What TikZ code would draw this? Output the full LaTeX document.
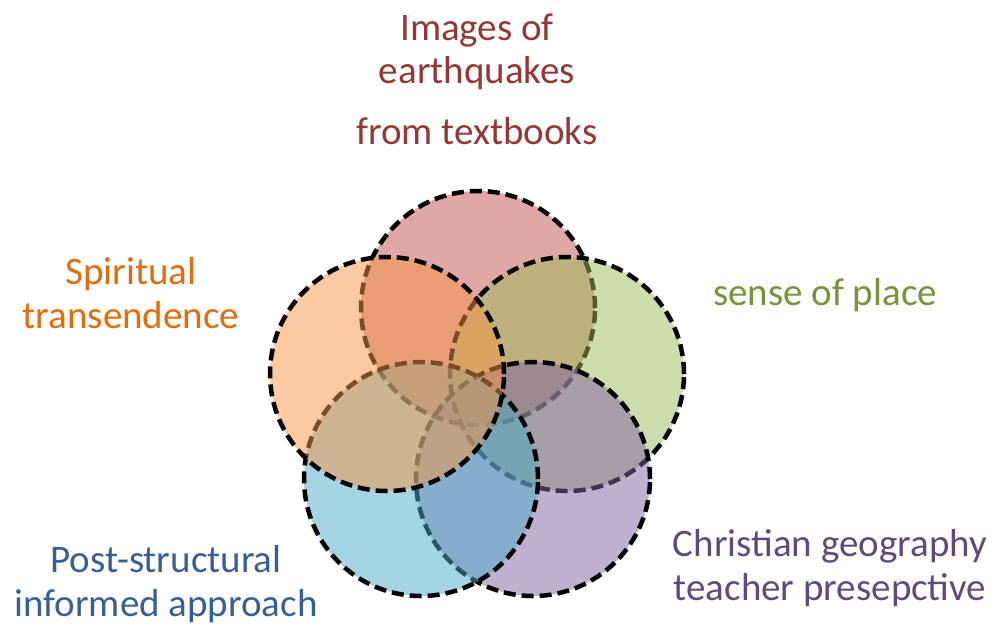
\documentclass[tikz,border=0pt]{standalone}
\usepackage{fontspec}
\setmainfont{Carlito}
\usepackage{xcolor}
\usepackage{tikz}
\definecolor{fillred}{HTML}{C0504D}
\definecolor{fillgreen}{HTML}{9BBB59}
\definecolor{fillpurple}{HTML}{8064A2}
\definecolor{fillblue}{HTML}{4BACC6}
\definecolor{fillorange}{HTML}{F79646}
\definecolor{textred}{HTML}{953735}
\definecolor{textgreen}{HTML}{77933C}
\definecolor{textpurple}{HTML}{604A7B}
\definecolor{textblue}{HTML}{376092}
\definecolor{textorange}{HTML}{E46C0A}

\begin{document}
\begin{tikzpicture}[x=1pt,y=-1pt,
  venn/.style={circle, draw=black, line width=4.5pt, dash pattern=on 12pt off 6pt,
    fill opacity=.5, minimum size=234pt, inner sep=0pt},
  lbl/.style={align=center, font=\fontsize{39}{43.5}\selectfont}]
\useasboundingbox (0,0) rectangle (1003,625);
% circles
\node[venn, fill=fillred] (red) at (478,308) {};
\node[venn, fill=fillgreen] (green) at (567,374) {};
\node[venn, fill=fillpurple] (purple) at (533,479) {};
\node[venn, fill=fillblue] (blue) at (421,479) {};
\node[venn, fill=fillorange] (orange) at (387,374) {};
% labels
\node[lbl, text=textred] (images) at (477,79) {Images of\\earthquakes\\[17pt]from textbooks};
\node[lbl, text=textorange] (spiritual) at (131,293) {Spiritual\\transendence};
\node[lbl, text=textgreen] (place) at (825,295) {sense of place};
\node[lbl, text=textpurple] (christian) at (830,568) {Christian geography\\teacher presepctive};
\node[lbl, text=textblue] (post) at (166,584) {Post-structural\\informed approach};
\end{tikzpicture}
\end{document}
